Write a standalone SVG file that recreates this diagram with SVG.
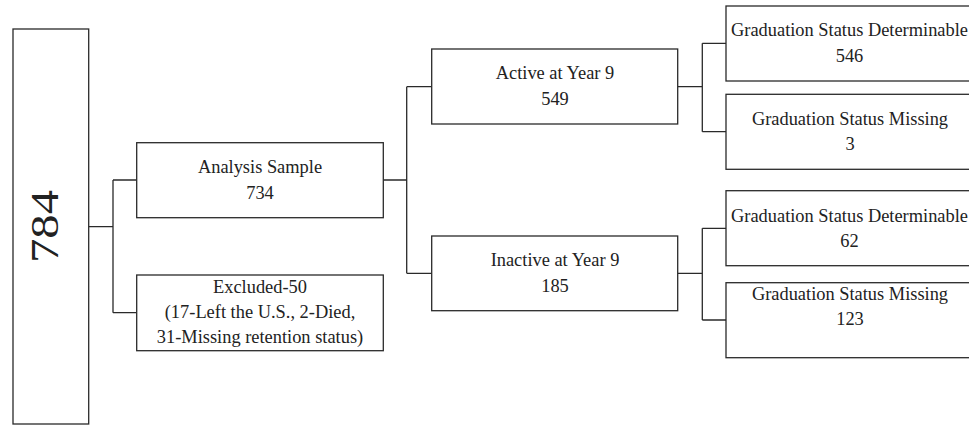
<svg xmlns="http://www.w3.org/2000/svg" width="969" height="425" viewBox="0 0 969 425">
<style>
.box{fill:#fff;stroke:#2a2a2a;stroke-width:1.3}
.t{font-family:"Liberation Serif","Times New Roman",serif;font-size:18.4px;fill:#222;text-anchor:middle}
.c{fill:none;stroke:#2a2a2a;stroke-width:1.3}
</style>
<rect width="969" height="425" fill="#fff"/>
<g id="connectors">
<path class="c" d="M88.7 226.7H113M113 180V312.7M113 180H136.7M113 312.7H136.7"/>
<path class="c" d="M383.3 180H406.7M406.7 86.7V273.3M406.7 86.7H431.7M406.7 273.3H431.7"/>
<path class="c" d="M677.7 86.7H702.3M702.3 43.3V131.7M702.3 43.3H726M702.3 131.7H726"/>
<path class="c" d="M677.7 273.3H702.3M702.3 228.3V320M702.3 228.3H726M702.3 320H726"/>
</g>
<g id="n784">
<rect class="box" x="13" y="29" width="75.7" height="395"/>
<text x="58" y="226.5" transform="rotate(-90 58 226.5)" style="font-family:'Liberation Serif','Times New Roman',serif;font-size:40px;fill:#222;text-anchor:middle" textLength="73" lengthAdjust="spacingAndGlyphs">784</text>
</g>
<g id="analysis">
<rect class="box" x="136.7" y="142.7" width="246.6" height="75"/>
<text class="t" x="260" y="173">Analysis Sample</text>
<text class="t" x="260" y="199">734</text>
</g>
<g id="excluded">
<rect class="box" x="136.7" y="275" width="246.6" height="75.7"/>
<text class="t" x="260" y="293.3">Excluded-50</text>
<text class="t" x="260" y="318">(17-Left the U.S., 2-Died,</text>
<text class="t" x="260" y="343">31-Missing retention status)</text>
</g>
<g id="active">
<rect class="box" x="431.7" y="49" width="246" height="75"/>
<text class="t" x="555" y="79">Active at Year 9</text>
<text class="t" x="555" y="105">549</text>
</g>
<g id="inactive">
<rect class="box" x="431.7" y="236" width="246" height="74.7"/>
<text class="t" x="555" y="266">Inactive at Year 9</text>
<text class="t" x="555" y="291.7">185</text>
</g>
<g id="active-det">
<rect class="box" x="726" y="6" width="260" height="75"/>
<text class="t" x="849.5" y="36">Graduation Status Determinable</text>
<text class="t" x="849.5" y="62">546</text>
</g>
<g id="active-miss">
<rect class="box" x="726" y="94.3" width="260" height="75"/>
<text class="t" x="850" y="125">Graduation Status Missing</text>
<text class="t" x="850" y="150">3</text>
</g>
<g id="inactive-det">
<rect class="box" x="726" y="190.7" width="260" height="75"/>
<text class="t" x="849.5" y="221.7">Graduation Status Determinable</text>
<text class="t" x="849.5" y="247.3">62</text>
</g>
<g id="inactive-miss">
<rect class="box" x="726" y="282.7" width="260" height="75"/>
<text class="t" x="850" y="300">Graduation Status Missing</text>
<text class="t" x="850" y="325">123</text>
</g>
</svg>
